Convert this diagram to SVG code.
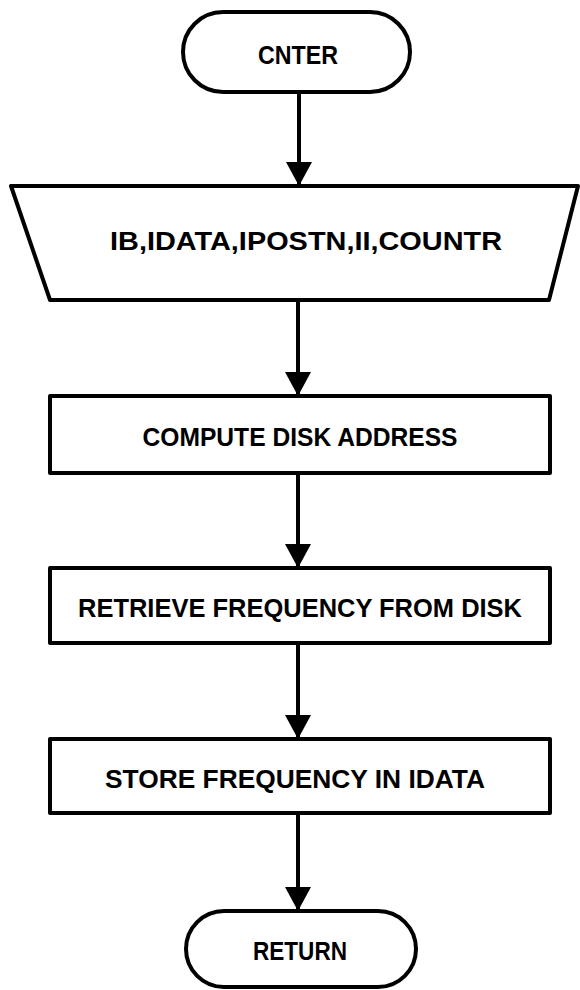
<svg xmlns="http://www.w3.org/2000/svg" width="580" height="990" viewBox="0 0 580 990">
<defs>
<style>
.shape{fill:#fff;stroke:#000;stroke-width:4;stroke-linejoin:round}
.lbl{font-family:"Liberation Sans",Arial,sans-serif;font-weight:bold;font-size:26px;fill:#000;text-anchor:middle}
.conn{stroke:#000;stroke-width:4;fill:none}
</style>
<marker id="ah" markerUnits="userSpaceOnUse" markerWidth="26" markerHeight="28" viewBox="0 0 26 28" refX="25" refY="14" orient="auto">
<path d="M1,1 L25,14 L1,27 Z" fill="#000"/>
</marker>
</defs>
<rect width="580" height="990" fill="#fff"/>
<g id="connectors">
<line class="conn" x1="299" y1="92" x2="299" y2="186" marker-end="url(#ah)"/>
<line class="conn" x1="298" y1="300" x2="298" y2="396" marker-end="url(#ah)"/>
<line class="conn" x1="298" y1="473" x2="298" y2="568" marker-end="url(#ah)"/>
<line class="conn" x1="298" y1="643" x2="298" y2="739" marker-end="url(#ah)"/>
<line class="conn" x1="298" y1="813" x2="298" y2="911" marker-end="url(#ah)"/>
</g>
<g id="cnter">
<rect class="shape" x="183" y="12" width="227" height="80" rx="40" ry="40"/>
<text class="lbl" x="298" y="64" textLength="80" lengthAdjust="spacingAndGlyphs">CNTER</text>
</g>
<g id="input">
<polygon class="shape" points="11,186 578,186 549,300 50,300"/>
<text class="lbl" x="306" y="250" textLength="392" lengthAdjust="spacingAndGlyphs">IB,IDATA,IPOSTN,II,COUNTR</text>
</g>
<g id="compute">
<rect class="shape" x="50" y="396" width="500" height="77"/>
<text class="lbl" x="300" y="446" textLength="315" lengthAdjust="spacingAndGlyphs">COMPUTE DISK ADDRESS</text>
</g>
<g id="retrieve">
<rect class="shape" x="50" y="568" width="500" height="75"/>
<text class="lbl" x="300" y="617" textLength="444" lengthAdjust="spacingAndGlyphs">RETRIEVE FREQUENCY FROM DISK</text>
</g>
<g id="store">
<rect class="shape" x="50" y="739" width="500" height="74"/>
<text class="lbl" x="295" y="788" textLength="380" lengthAdjust="spacingAndGlyphs">STORE FREQUENCY IN IDATA</text>
</g>
<g id="return">
<rect class="shape" x="186" y="911" width="230" height="76" rx="38" ry="38"/>
<text class="lbl" x="300" y="960" textLength="94" lengthAdjust="spacingAndGlyphs">RETURN</text>
</g>
</svg>
